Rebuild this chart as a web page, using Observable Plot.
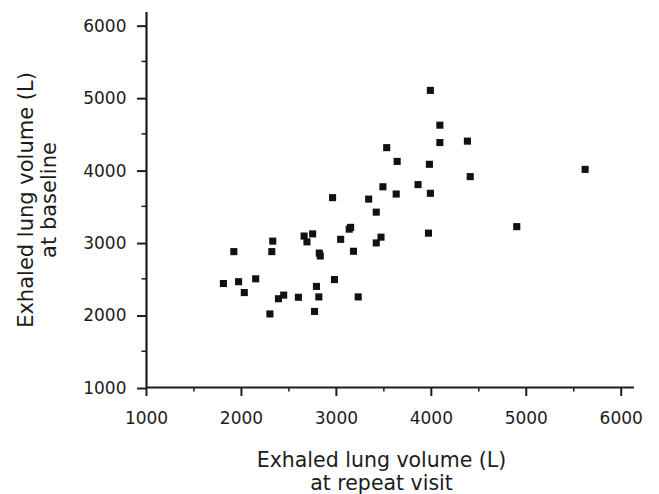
<!DOCTYPE html>
<html>
<head>
<meta charset="utf-8">
<script src="https://cdn.jsdelivr.net/npm/d3@7"></script>
<script src="https://cdn.jsdelivr.net/npm/@observablehq/plot@0.6"></script>
<style>
  html, body { margin: 0; padding: 0; background: #fff; }
</style>
</head>
<body>
<div id="chart"></div>
<script>
// Exhaled lung volume (L) at repeat visit (x) vs at baseline (y)
const repeatVisit = [3990, 4090, 4090, 4380, 3530, 3640, 3980, 5620, 4410, 3860,
  3490, 3630, 3990, 2960, 3340, 3420, 4900, 3150, 3135, 2750,
  2660, 2690, 2330, 3045, 3470, 3420, 3970, 1920, 2320, 2820,
  2830, 3180, 1810, 1970, 2150, 2030, 2980, 2790, 2390, 2445,
  2600, 2815, 3230, 2300, 2770];
const baseline = [5100, 4620, 4380, 4400, 4310, 4120, 4080, 4010, 3910, 3800,
  3770, 3670, 3680, 3620, 3600, 3420, 3220, 3210, 3185, 3120,
  3090, 3010, 3020, 3045, 3075, 2995, 3130, 2875, 2875, 2855,
  2815, 2880, 2435, 2460, 2500, 2310, 2490, 2395, 2225, 2275,
  2245, 2250, 2250, 2015, 2050];

const majorTicks = [1000, 2000, 3000, 4000, 5000, 6000];
const minorTicks = [1500, 2500, 3500, 4500, 5500];
const xTitle = "Exhaled lung volume (L)\nat repeat visit";
const yTitle = "Exhaled lung volume (L)\nat baseline";

const points = repeatVisit.map((x, i) => ({x, y: baseline[i]}));
const ink = "#1c1c1c";

const chart = Plot.plot({
  width: 659,
  height: 494,
  marginLeft: 146,
  marginRight: 25,
  marginTop: 12,
  marginBottom: 107,
  style: {fontFamily: "'DejaVu Sans', Verdana, sans-serif", fontSize: "17px", color: ink, background: "#fff"},
  x: {domain: [1000, 6140]},
  y: {domain: [1000, 6175]},
  marks: [
    Plot.axisX(majorTicks, {tickSize: 9, tickPadding: 15, strokeWidth: 2, stroke: ink, fill: ink, fontSize: 17, tickFormat: d => String(d), label: null}),
    Plot.axisX(minorTicks, {tickSize: 4.5, strokeWidth: 1.5, stroke: ink, tickFormat: () => "", label: null}),
    Plot.axisY(majorTicks, {tickSize: 9, tickPadding: 11, strokeWidth: 2, stroke: ink, fill: ink, fontSize: 17, dy: 1, tickFormat: d => String(d), label: null}),
    Plot.axisY(minorTicks, {tickSize: 4.5, strokeWidth: 1.5, stroke: ink, tickFormat: () => "", label: null}),
    Plot.ruleX([1000], {stroke: ink, strokeWidth: 2.2}),
    Plot.ruleY([1000], {stroke: ink, strokeWidth: 2.2}),
    Plot.dot(points, {x: "x", y: "y", symbol: "square", r: 4, fill: "#111", stroke: null}),
    Plot.text([xTitle], {text: d => d, frameAnchor: "bottom", textAnchor: "middle", lineAnchor: "top", dy: 63, dx: -9, fontSize: 20.5, lineHeight: 1.12, fill: ink}),
    Plot.text([yTitle], {text: d => d, frameAnchor: "left", textAnchor: "middle", lineAnchor: "top", rotate: -90, dx: -130, fontSize: 21, lineHeight: 1.1, fill: ink})
  ]
});
document.getElementById("chart").appendChild(chart);
</script>
</body>
</html>
